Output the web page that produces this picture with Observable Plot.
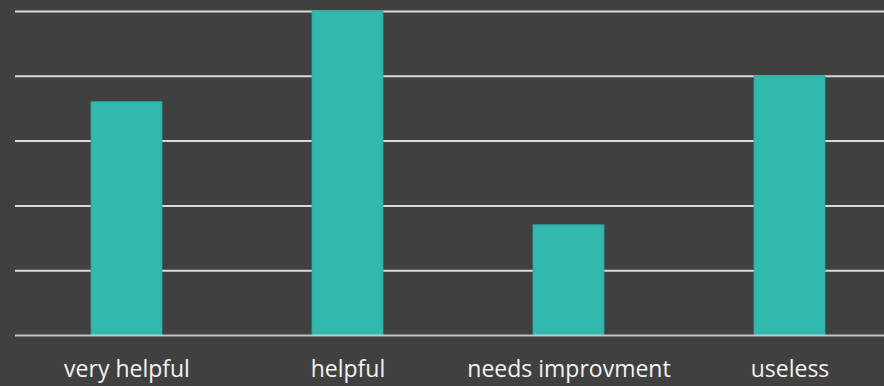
<!DOCTYPE html>
<html>
<head>
<meta charset="utf-8">
<script src="https://cdn.jsdelivr.net/npm/d3@7"></script>
<script src="https://cdn.jsdelivr.net/npm/@observablehq/plot@0.6"></script>
<style>
  html, body { margin: 0; padding: 0; background: #404040; }
  #chart svg { display: block; }
</style>
</head>
<body>
<div id="chart"></div>
<script>
const categories = ["very helpful", "helpful", "needs improvment", "useless"];
const values = [36, 50, 17, 40];
const gridTicks = [0, 10, 20, 30, 40, 50];

const data = categories.map((c, i) => ({category: c, value: values[i]}));

const chart = Plot.plot({
  width: 884,
  height: 386,
  marginLeft: 15,
  marginRight: 0,
  marginTop: 11,
  marginBottom: 51,
  style: {background: "#404040", color: "#f2f2f2", fontFamily: "'Open Sans', sans-serif", overflow: "visible"},
  x: {domain: categories, range: [15, 901], paddingInner: 0.68, paddingOuter: 0.34, label: null},
  y: {domain: [0, 50], label: null, axis: null},
  marks: [
    Plot.ruleY(gridTicks.filter(d => d > 0), {stroke: "#d9d9d9", strokeWidth: 2}),
    Plot.barY(data, {x: "category", y: "value", fill: "#31b9ae", stroke: "#2aa89e", strokeWidth: 0.8}),
    Plot.ruleY([0], {stroke: "#d9d9d9", strokeWidth: 2, strokeOpacity: 0.85}),
    Plot.axisX({tickSize: 0, tickPadding: 25, fontSize: 23, fill: "#f2f2f2", label: null})
  ]
});
document.getElementById("chart").append(chart);
</script>
</body>
</html>
